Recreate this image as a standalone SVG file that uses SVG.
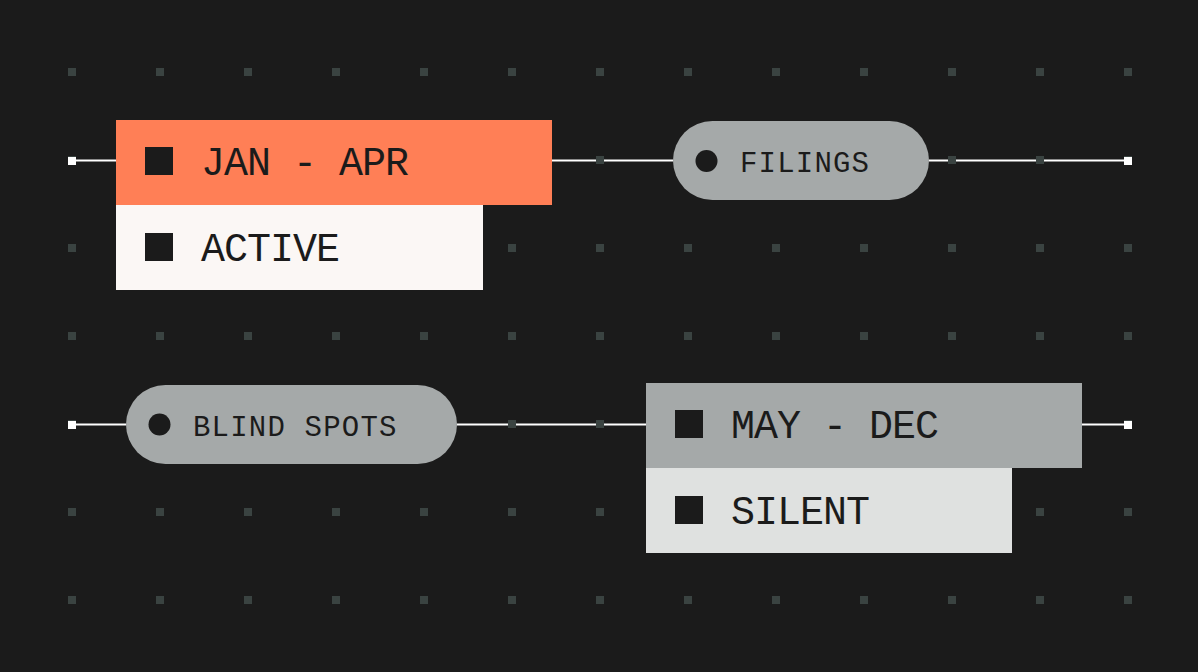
<svg xmlns="http://www.w3.org/2000/svg" width="1198" height="672" viewBox="0 0 1198 672">
  <defs>
    <style>
      .bg { fill: #1b1b1b; }
      .dot { fill: #3a4341; }
      .wire { stroke: #ffffff; stroke-width: 2; fill: none; }
      .end { fill: #ffffff; }
      .big { font-family: "Liberation Mono", "DejaVu Sans Mono", monospace; font-size: 40px; letter-spacing: -1px; fill: #1b1b1b; }
      .small { font-family: "Liberation Mono", "DejaVu Sans Mono", monospace; font-size: 29px; letter-spacing: 1.2px; fill: #1b1b1b; }
      .icon { fill: #1b1b1b; }
    </style>
    <pattern id="grid" x="0" y="0" width="88" height="88" patternUnits="userSpaceOnUse">
      <rect x="68" y="68" width="8" height="8" class="dot"/>
    </pattern>
  </defs>
  <rect class="bg" x="0" y="0" width="1198" height="672"/>

  <g id="connectors">
    <line class="wire" x1="72" y1="160.5" x2="116" y2="160.5"/>
    <line class="wire" x1="552" y1="160.5" x2="673" y2="160.5"/>
    <line class="wire" x1="929" y1="160.5" x2="1128" y2="160.5"/>
    <line class="wire" x1="72" y1="424.5" x2="126" y2="424.5"/>
    <line class="wire" x1="457" y1="424.5" x2="646" y2="424.5"/>
    <line class="wire" x1="1082" y1="424.5" x2="1128" y2="424.5"/>
  </g>

  <g id="grid-dots">
    <rect x="0" y="0" width="1198" height="672" fill="url(#grid)"/>
  </g>

  <g id="endpoints">
    <rect class="end" x="68" y="157" width="8" height="8"/>
    <rect class="end" x="1124" y="157" width="8" height="8"/>
    <rect class="end" x="68" y="421" width="8" height="8"/>
    <rect class="end" x="1124" y="421" width="8" height="8"/>
  </g>

  <g id="node-jan-apr">
    <rect x="116" y="120" width="436" height="85" fill="#ff7f56"/>
    <rect class="icon" x="145" y="147" width="28" height="28"/>
    <text class="big" x="201" y="175">JAN - APR</text>
  </g>

  <g id="node-active">
    <rect x="116" y="205" width="367" height="85" fill="#fbf7f5"/>
    <rect class="icon" x="145" y="233" width="28" height="28"/>
    <text class="big" x="201" y="261">ACTIVE</text>
  </g>

  <g id="node-filings">
    <rect x="673" y="121" width="256" height="79" rx="39.5" fill="#a5a9a9"/>
    <circle class="icon" cx="706.5" cy="161" r="11"/>
    <text class="small" x="740" y="171.5">FILINGS</text>
  </g>

  <g id="node-blind-spots">
    <rect x="126" y="385" width="331" height="79" rx="39.5" fill="#a5a9a9"/>
    <circle class="icon" cx="159.5" cy="424.5" r="11"/>
    <text class="small" x="193" y="435.5">BLIND SPOTS</text>
  </g>

  <g id="node-may-dec">
    <rect x="646" y="383" width="436" height="85" fill="#a5a9a9"/>
    <rect class="icon" x="675" y="410" width="28" height="28"/>
    <text class="big" x="731" y="438">MAY - DEC</text>
  </g>

  <g id="node-silent">
    <rect x="646" y="468" width="366" height="85" fill="#dfe1e0"/>
    <rect class="icon" x="675" y="496" width="28" height="28"/>
    <text class="big" x="731" y="524">SILENT</text>
  </g>
</svg>
